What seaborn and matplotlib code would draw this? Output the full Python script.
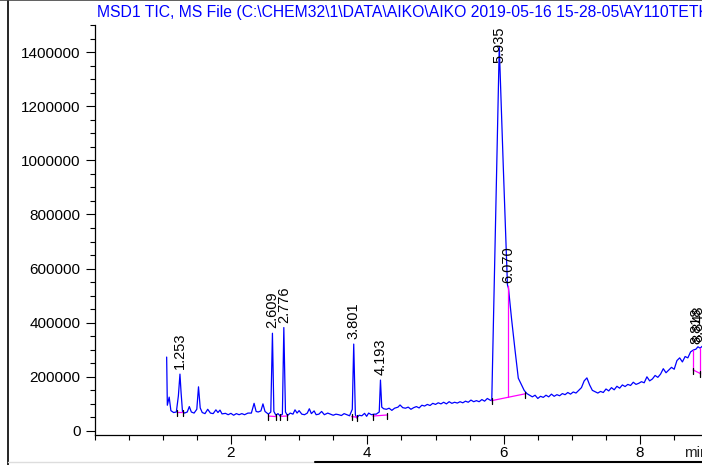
import matplotlib
matplotlib.use("Agg")
import matplotlib.pyplot as plt
import seaborn as sns
import numpy as np
import pandas as pd
from matplotlib.lines import Line2D
from matplotlib.ticker import MultipleLocator

# ---------------- data (time in min, abundance in thousands) ----------------
time = [1.058, 1.068, 1.095, 1.12, 1.16, 1.20, 1.23, 1.253, 1.27, 1.29, 1.32, 1.36, 1.39, 1.42,
        1.46, 1.50, 1.525, 1.55, 1.58, 1.62, 1.66, 1.70, 1.74, 1.78, 1.81, 1.84, 1.87, 1.92,
        1.96, 2.00, 2.04, 2.08, 2.12, 2.16, 2.20, 2.25, 2.30, 2.34, 2.37, 2.40, 2.44, 2.47,
        2.50, 2.55, 2.585, 2.609, 2.63, 2.66, 2.69, 2.72, 2.755, 2.776, 2.80, 2.83, 2.87,
        2.91, 2.94, 2.97, 3.00, 3.04, 3.08, 3.12, 3.15, 3.18, 3.22, 3.25, 3.29, 3.33, 3.37,
        3.42, 3.46, 3.50, 3.54, 3.58, 3.62, 3.66, 3.70, 3.74, 3.78, 3.801, 3.825, 3.845,
        3.88, 3.92, 3.96, 3.99, 4.02, 4.06, 4.10, 4.13, 4.175, 4.193, 4.212, 4.24, 4.28,
        4.32, 4.36, 4.40, 4.45, 4.48, 4.52, 4.56, 4.60, 4.64, 4.68, 4.72, 4.76, 4.80, 4.84,
        4.88, 4.92, 4.96, 5.00, 5.04, 5.08, 5.12, 5.16, 5.20, 5.24, 5.28, 5.32, 5.36, 5.40,
        5.44, 5.48, 5.52, 5.56, 5.60, 5.64, 5.68, 5.72, 5.76, 5.80, 5.825, 5.935, 5.994,
        6.055, 6.070, 6.117, 6.166, 6.214, 6.25, 6.30, 6.34, 6.38, 6.42, 6.46, 6.50, 6.54,
        6.58, 6.62, 6.66, 6.70, 6.74, 6.78, 6.82, 6.86, 6.90, 6.94, 6.98, 7.02, 7.06, 7.10,
        7.14, 7.18, 7.22, 7.26, 7.30, 7.34, 7.38, 7.42, 7.46, 7.50, 7.54, 7.58, 7.62, 7.66,
        7.70, 7.74, 7.78, 7.82, 7.86, 7.90, 7.94, 7.98, 8.02, 8.06, 8.10, 8.14, 8.18, 8.22,
        8.26, 8.30, 8.34, 8.38, 8.42, 8.46, 8.50, 8.54, 8.58, 8.62, 8.66, 8.70, 8.74, 8.78,
        8.818, 8.848, 8.88, 8.92]
abund = [273, 95, 125, 75, 68, 70, 130, 210, 140, 72, 66, 70, 90, 70,
         66, 80, 163, 85, 68, 64, 80, 66, 64, 78, 68, 77, 63, 65,
         60, 65, 58, 64, 60, 64, 60, 66, 66, 102, 72, 70, 74, 100,
         72, 62, 70, 361, 72, 58, 64, 56, 62, 382, 70, 57, 66,
         62, 78, 66, 75, 62, 60, 66, 82, 64, 74, 60, 62, 72, 60,
         66, 62, 58, 62, 60, 57, 64, 60, 56, 80, 321, 60, 48,
         58, 56, 65, 54, 66, 60, 62, 62, 70, 188, 88, 82, 80,
         84, 76, 84, 88, 96, 86, 84, 88, 80, 86, 90, 85, 95, 92,
         98, 94, 102, 98, 104, 100, 106, 100, 108, 102, 106, 103, 108, 104,
         110, 106, 114, 108, 112, 108, 116, 110, 120, 114, 112, 1420, 976,
         540, 527, 410, 299, 195, 176, 150, 138, 132, 126, 132, 120, 128,
         124, 132, 126, 136, 128, 134, 130, 138, 134, 142, 136, 144, 140, 150,
         160, 185, 196, 170, 150, 145, 140, 146, 142, 155, 148, 160, 152, 165,
         158, 170, 164, 172, 168, 180, 172, 176, 182, 178, 200, 185, 192, 205,
         198, 210, 230, 215, 225, 235, 228, 260, 270, 255, 275, 270, 292, 299,
         302, 311, 306, 315]

# labelled peaks
peak_labels = ["1.253", "2.609", "2.776", "3.801", "4.193", "5.935", "6.070", "8.818", "8.848"]
peak_times = [1.253, 2.609, 2.776, 3.801, 4.193, 5.935, 6.070, 8.818, 8.848]

# integration baselines: start/end time and baseline level (thousands)
base_t0 = [1.205, 2.55, 2.72, 3.77, 4.08, 5.825, 8.78]
base_y0 = [71, 55, 54, 53, 55, 112, 225]
base_t1 = [1.30, 2.665, 2.82, 3.845, 4.29, 6.31, 8.885]
base_y1 = [71, 53, 55, 51, 59, 137, 212]
# drop lines (time, baseline index)
drop_t = [6.06, 8.78, 8.885]
drop_i = [5, 6, 6]

yticks = [0, 200000, 400000, 600000, 800000, 1000000, 1200000, 1400000]
xticks = [2, 4, 6, 8]
title = "MSD1 TIC, MS File (C:\\CHEM32\\1\\DATA\\AIKO\\AIKO 2019-05-16 15-28-05\\AY110TETK.D)"

# ---------------- plotting ----------------
sns.set_style("ticks")
plt.rcParams["font.family"] = ["Liberation Sans", "DejaVu Sans"]

W, H = 702, 465
fig = plt.figure(figsize=(W / 100, H / 100), dpi=100)
ax = fig.add_axes([94.5 / W, (H - 435) / H, 1 - 94.5 / W, (435 - 25) / H])

df = pd.DataFrame({"time": time, "abund": np.array(abund) * 1000.0})
sns.lineplot(data=df, x="time", y="abund", ax=ax, color="#0000ff", lw=0.9,
             estimator=None, sort=False)

ax.set_xlim(0, (W - 94.5) / 68.2)
ax.set_ylim(-15000, 1500000)

t_arr = np.array(time)
a_arr = np.array(abund) * 1000.0
for t0, y0, t1, y1 in zip(base_t0, base_y0, base_t1, base_y1):
    ax.plot([t0, t1], [y0 * 1000, y1 * 1000], color="#ff00ff", lw=0.9, zorder=3)
    for tt, yy in ((t0, y0), (t1, y1)):
        ax.plot([tt, tt], [yy * 1000 + 8000, yy * 1000 - 14000], color="black", lw=0.9, zorder=4)
for dt, bi in zip(drop_t, drop_i):
    frac = (dt - base_t0[bi]) / (base_t1[bi] - base_t0[bi])
    by = (base_y0[bi] + frac * (base_y1[bi] - base_y0[bi])) * 1000
    ty = np.interp(dt, t_arr, a_arr)
    ax.plot([dt, dt], [by, ty], color="#ff00ff", lw=0.9, zorder=3)

# peak labels
px_per_unit = (435 - 25) / (1500000 + 15000)
label_h = 37 / px_per_unit
for lab, pt in zip(peak_labels, peak_times):
    apex = np.interp(pt, t_arr, a_arr)
    y = apex + 5 / px_per_unit
    if y + label_h > 1500000:
        ax.text(pt, 1493000, lab, rotation=90, ha="center", va="top", fontsize=10.5,
                color="black", clip_on=False)
    else:
        ax.text(pt, y, lab, rotation=90, ha="center", va="bottom", fontsize=10.5,
                color="black", clip_on=False)

ax.set_xticks(xticks)
ax.set_xticklabels([str(v) for v in xticks])
ax.xaxis.set_minor_locator(MultipleLocator(0.5))
ax.set_yticks(yticks)
ax.set_yticklabels([str(v) for v in yticks])
ax.yaxis.set_minor_locator(MultipleLocator(50000))
ax.tick_params(axis="both", which="major", length=6.5, width=0.8, labelsize=11, color="black",
               labelcolor="black")
ax.tick_params(axis="x", which="major", pad=1.5)
ax.tick_params(axis="y", which="major", pad=3.5)
ax.tick_params(axis="both", which="minor", length=3.5, width=0.8, color="black")
ax.set_xlabel("")
ax.set_ylabel("")
for s in ("top", "right"):
    ax.spines[s].set_visible(False)
for s in ("left", "bottom"):
    ax.spines[s].set_linewidth(0.9)
    ax.spines[s].set_color("black")

ax.annotate("min", xy=(8.64, 0), xycoords=("data", "axes fraction"), xytext=(0, -8),
            textcoords="offset points", ha="left", va="top", fontsize=11, annotation_clip=False)

fig.text(97 / W, 1 - 12 / H, title, color="#0000ff", fontsize=11.3, ha="left", va="center")

# page frame lines
fig.add_artist(Line2D([8 / W, 8 / W], [0, 1], color="black", lw=1.2))
fig.add_artist(Line2D([0, 1], [1 - 0.5 / H, 1 - 0.5 / H], color="#444444", lw=1.2))
fig.add_artist(Line2D([8 / W, 315 / W], [3 / H, 3 / H], color="#dddddd", lw=1.0))
fig.add_artist(Line2D([315 / W, 1], [3 / H, 3 / H], color="black", lw=1.5))

fig.savefig("out.png", dpi=100)
